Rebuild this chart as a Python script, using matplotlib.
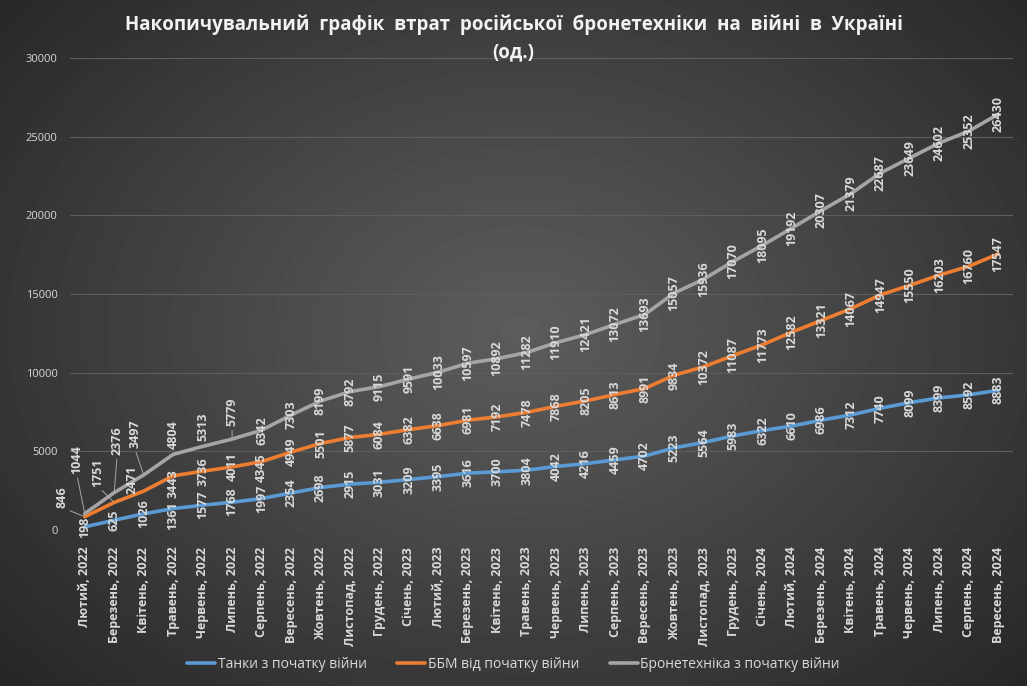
import matplotlib.pyplot as plt
import numpy as np

months = ["Лютий, 2022", "Березень, 2022", "Квітень, 2022", "Травень, 2022", "Червень, 2022",
          "Липень, 2022", "Серпень, 2022", "Вересень, 2022", "Жовтень, 2022", "Листопад, 2022",
          "Грудень, 2022", "Січень, 2023", "Лютий, 2023", "Березень, 2023", "Квітень, 2023",
          "Травень, 2023", "Червень, 2023", "Липень, 2023", "Серпень, 2023", "Вересень, 2023",
          "Жовтень, 2023", "Листопад, 2023", "Грудень, 2023", "Січень, 2024", "Лютий, 2024",
          "Березень, 2024", "Квітень, 2024", "Травень, 2024", "Червень, 2024", "Липень, 2024",
          "Серпень, 2024", "Вересень, 2024"]
tanks = [198, 625, 1026, 1361, 1577, 1768, 1997, 2354, 2698, 2915, 3031, 3209, 3395, 3616, 3700, 3804,
         4042, 4216, 4459, 4702, 5223, 5564, 5983, 6322, 6610, 6986, 7312, 7740, 8099, 8399, 8592, 8883]
bbm = [846, 1751, 2471, 3443, 3736, 4011, 4345, 4949, 5501, 5877, 6084, 6382, 6638, 6981, 7192, 7478,
       7868, 8205, 8613, 8991, 9834, 10372, 11087, 11773, 12582, 13321, 14067, 14947, 15550, 16203, 16760, 17547]
armor = [1044, 2376, 3497, 4804, 5313, 5779, 6342, 7303, 8199, 8792, 9115, 9591, 10033, 10597, 10892, 11282,
         11910, 12421, 13072, 13693, 15057, 15936, 17070, 18095, 19192, 20307, 21379, 22687, 23649, 24602, 25352, 26430]

labels = ["Танки з початку війни", "ББМ від початку війни", "Бронетехніка з початку війни"]
colors = ["#5B9BD5", "#ED7D31", "#A5A5A5"]

# label offsets (pixels) for the crowded first points: (series, index) -> (dx, dy, leader)
offsets = {
    (1, 0): (-23, 20, True), (2, 0): (-8, 54, True),
    (1, 1): (-16, 30, True), (2, 1): (3, 52, True),
    (1, 2): (-12, 11, False), (2, 2): (-9, 41, True),
    (0, 3): (0, -7, False), (1, 3): (0, -8, False), (2, 3): (0, 20, False),
    (2, 4): (0, 20, False), (2, 5): (0, 27, True),
    (1, 6): (0, -6, False),
}

plt.rcParams['font.family'] = ['Open Sans', 'DejaVu Sans']
txt = "#D9D9D9"

fig = plt.figure(figsize=(10.27, 6.86), dpi=100)

# dark radial background
bg = fig.add_axes([0, 0, 1, 1], zorder=-10)
yy, xx = np.mgrid[0:686, 0:1027]
r = np.sqrt(((xx - 520) / 700.0) ** 2 + ((yy - 330) / 520.0) ** 2)
r = np.clip(r, 0, 1)
shade = 0.36 - (0.36 - 0.15) * r ** 1.1
bg.imshow(shade, cmap="gray", vmin=0, vmax=1, aspect="auto")
bg.axis("off")

ax = fig.add_axes([70 / 1027, 1 - 530 / 686, 943 / 1027, 472 / 686])
ax.set_facecolor("none")

x = np.arange(len(months))
for s, (vals, c, lab) in enumerate(zip([tanks, bbm, armor], colors, labels)):
    ax.plot(x, vals, color=c, lw=2.6, label=lab, solid_capstyle="round", zorder=3)
    for i, v in enumerate(vals):
        dx, dy, leader = offsets.get((s, i), (0, 0, False))
        ap = None
        if leader:
            ap = dict(arrowstyle="-", color="#A6A6A6", lw=0.7, shrinkA=1, shrinkB=1,
                      relpos=(0.5, 0.0) if dy > 0 else (0.5, 1.0))
        ax.annotate(str(v), (i, v), xytext=(dx, dy), textcoords="offset pixels",
                    rotation=90, ha="center", va="center", fontsize=9, fontweight="bold",
                    color=txt, zorder=5, arrowprops=ap)

ax.set_xlim(-0.5, len(months) - 0.5)
ax.set_ylim(0, 30000)
ax.set_yticks(np.arange(0, 30001, 5000))
ax.set_yticklabels([str(t) for t in range(0, 30001, 5000)], fontsize=8, color=txt)
ax.set_xticks(x)
ax.set_xticklabels(months, rotation=90, fontsize=9, fontweight="bold", color=txt)
ax.tick_params(axis="both", length=0)
ax.tick_params(axis="y", pad=9)
ax.tick_params(axis="x", pad=12)
ax.grid(axis="y", color="#5E5E5E", lw=0.8)
for sp in ax.spines.values():
    sp.set_visible(False)

fig.text(0.5, 1 - 25 / 686, "Накопичувальний  графік  втрат  російської  бронетехніки  на  війні  в  Україні",
         ha="center", va="center", fontsize=13.5, fontweight="bold", color="#F2F2F2",
         family=["Liberation Sans Narrow", "Open Sans", "DejaVu Sans"])
fig.text(0.5, 1 - 52 / 686, "(од.)", ha="center", va="center", fontsize=13.5, fontweight="bold",
         color="#F2F2F2", family=["Liberation Sans Narrow", "Open Sans", "DejaVu Sans"])

leg = fig.legend(loc="center", bbox_to_anchor=(0.5, 1 - 664 / 686), ncol=3, frameon=False,
                 fontsize=10, handlelength=2.0, handletextpad=0.2, columnspacing=2.2)
for t in leg.get_texts():
    t.set_color(txt)

fig.savefig("out.png", dpi=100)
